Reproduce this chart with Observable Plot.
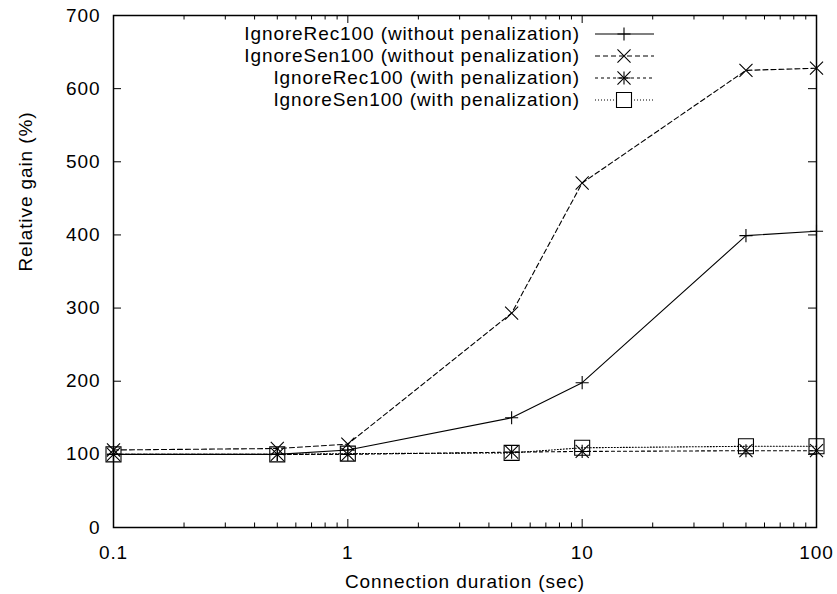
<!DOCTYPE html>
<html><head><meta charset="utf-8">
<script src="https://cdn.jsdelivr.net/npm/d3@7"></script>
<script src="https://cdn.jsdelivr.net/npm/@observablehq/plot@0.6"></script>
<style>body{margin:0;background:#fff}</style>
</head><body><div id="chart"></div>
<script>
// ---- data ----
const durations = [0.1, 0.5, 1, 5, 10, 50, 100];
const recWithout = [100, 100, 106, 150, 198, 399, 405];
const senWithout = [106, 108, 114, 293, 471, 625, 628];
const recWith = [100, 100, 100, 103, 104, 105, 105];
const senWith = [100, 100, 101, 102, 109, 111, 111];
const seriesNames = [
  "IgnoreRec100 (without penalization)",
  "IgnoreSen100 (without penalization)",
  "IgnoreRec100 (with penalization)",
  "IgnoreSen100 (with penalization)"
];
const xMajorTicks = [0.1, 1, 10, 100];
const xMinorTicks = [0.2,0.3,0.4,0.5,0.6,0.7,0.8,0.9,2,3,4,5,6,7,8,9,20,30,40,50,60,70,80,90];
const yTicks = [0, 100, 200, 300, 400, 500, 600, 700];
const xLabel = "Connection duration (sec)";
const yLabel = "Relative gain (%)";

// ---- layout ----
const W = 837, H = 594, mL = 113, mR = 21, mT = 15, mB = 67;
const innerW = W - mL - mR, innerH = H - mT - mB;
const FONT = "'Liberation Sans', Arial, Helvetica, sans-serif";

const styles = [
  {dash: null, symbols: [["plus", 4.3]]},
  {dash: "5,3", symbols: [["times", 6]]},
  {dash: "3,3", symbols: [["plus", 4.3], ["times", 6]]},
  {dash: "1,2", symbols: [["square", 8.46]]}
];
const allValues = [recWithout, senWithout, recWith, senWith];
const rows = seriesNames.flatMap((name, k) =>
  durations.map((d, i) => ({series: name, x: d, y: allValues[k][i]})));

const marks = [];
seriesNames.forEach((name, k) => {
  const data = rows.filter(r => r.series === name);
  marks.push(Plot.line(data, {x: "x", y: "y", stroke: "black", strokeWidth: 1.1,
    strokeDasharray: styles[k].dash}));
  styles[k].symbols.forEach(([sym, r]) => {
    marks.push(Plot.dot(data, {x: "x", y: "y", symbol: sym, r, stroke: "black",
      fill: "none", strokeWidth: 1.1}));
  });
});

// inward ticks (bottom/top, left/right)
marks.push(
  Plot.ruleX(xMajorTicks, {x: d => d, y1: 700, y2: 0, insetTop: innerH - 8, stroke: "black"}),
  Plot.ruleX(xMajorTicks, {x: d => d, y1: 700, y2: 0, insetBottom: innerH - 8, stroke: "black"}),
  Plot.ruleX(xMinorTicks, {x: d => d, y1: 700, y2: 0, insetTop: innerH - 4.5, stroke: "black"}),
  Plot.ruleX(xMinorTicks, {x: d => d, y1: 700, y2: 0, insetBottom: innerH - 4.5, stroke: "black"}),
  Plot.ruleY(yTicks, {y: d => d, x1: 0.1, x2: 100, insetRight: innerW - 8, stroke: "black"}),
  Plot.ruleY(yTicks, {y: d => d, x1: 0.1, x2: 100, insetLeft: innerW - 8, stroke: "black"}),
  Plot.axisX({ticks: xMajorTicks, tickSize: 0, tickPadding: 18, tickFormat: d => String(d), label: null, fill: "black"}),
  Plot.axisY({ticks: yTicks, tickSize: 0, tickPadding: 13, tickFormat: d => String(d), label: null, fill: "black"}),
  Plot.text([xLabel], {text: d => d, frameAnchor: "bottom", dy: 54, lineAnchor: "middle", fill: "black"}),
  Plot.text([yLabel], {text: d => d, frameAnchor: "left", dx: -88, rotate: -90, lineAnchor: "middle", fill: "black"}),
  Plot.frame({stroke: "black", strokeWidth: 1.5})
);

const chart = Plot.plot({
  width: W, height: H,
  marginLeft: mL, marginRight: mR, marginTop: mT, marginBottom: mB,
  x: {type: "log", domain: [0.1, 100]},
  y: {domain: [0, 700]},
  style: {fontFamily: FONT, fontSize: "19px", letterSpacing: "0.9px", background: "white", color: "black"},
  marks
});

// legend (top-right, inside frame)
const svg = d3.select(chart);
const g = svg.append("g");
seriesNames.forEach((name, k) => {
  const y = 34 + 22 * k;
  g.append("text").attr("x", 580).attr("y", y).attr("dy", "0.34em")
    .attr("text-anchor", "end").attr("fill", "black").text(name);
  g.append("line").attr("x1", 595).attr("x2", 654).attr("y1", y).attr("y2", y)
    .attr("stroke", "black").attr("stroke-width", 1.1)
    .attr("stroke-dasharray", styles[k].dash);
  styles[k].symbols.forEach(([sym, r]) => {
    const type = sym === "plus" ? d3.symbolPlus : sym === "times" ? d3.symbolTimes : d3.symbolSquare;
    g.append("path").attr("transform", `translate(624,${y})`)
      .attr("d", d3.symbol(type, r * r * Math.PI)())
      .attr("fill", sym === "square" ? "white" : "none").attr("stroke", "black").attr("stroke-width", 1.1);
  });
});

document.getElementById("chart").appendChild(chart);
</script>
</body></html>
